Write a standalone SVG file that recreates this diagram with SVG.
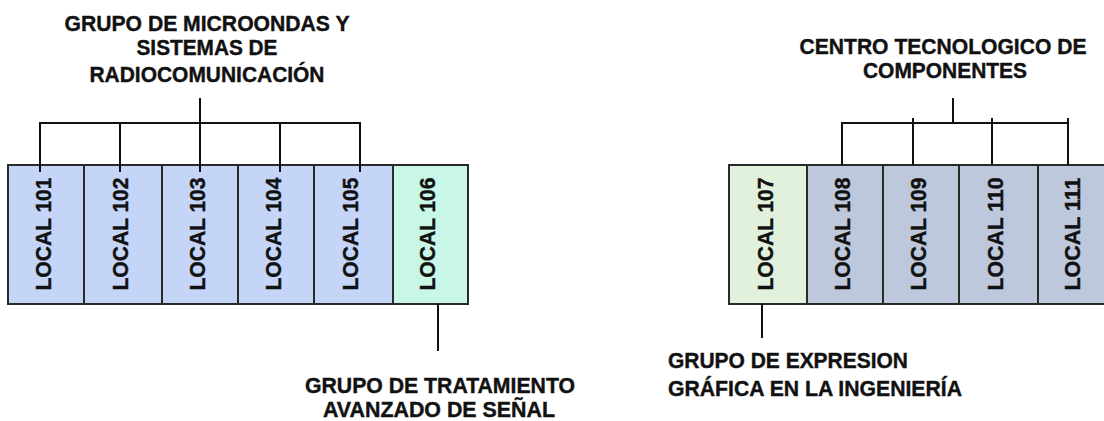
<svg xmlns="http://www.w3.org/2000/svg" width="1104" height="421" viewBox="0 0 1104 421">
<style>
.t{font-family:"Liberation Sans",Arial,sans-serif;font-weight:bold;font-size:22px;fill:#111;stroke:#111;stroke-width:0.4;}
.lbl{font-family:"Liberation Sans",Arial,sans-serif;font-weight:bold;font-size:22px;fill:#111;stroke:#111;stroke-width:0.4;text-anchor:middle;}
.box{stroke:#2a2a2a;stroke-width:2;}
.a{fill:#c5d5f7;}
.b{fill:#c9f7e7;}
.c{fill:#e2f1dc;}
.d{fill:#bdc8dc;}
.ln{stroke:#111;stroke-width:2;fill:none;}
</style>
<rect width="1104" height="421" fill="#ffffff"/>
<g id="title-microondas">
<text class="t" text-anchor="middle" x="207" y="31" textLength="285" lengthAdjust="spacingAndGlyphs">GRUPO DE MICROONDAS Y</text>
<text class="t" text-anchor="middle" x="207" y="55" textLength="141" lengthAdjust="spacingAndGlyphs">SISTEMAS DE</text>
<text class="t" text-anchor="middle" x="207" y="82" textLength="235" lengthAdjust="spacingAndGlyphs">RADIOCOMUNICACIÓN</text>
</g>
<g id="title-centro">
<text class="t" text-anchor="middle" x="943" y="54" textLength="287" lengthAdjust="spacingAndGlyphs">CENTRO TECNOLOGICO DE</text>
<text class="t" text-anchor="middle" x="945" y="78" textLength="164" lengthAdjust="spacingAndGlyphs">COMPONENTES</text>
</g>
<g id="title-tratamiento">
<text class="t" text-anchor="middle" x="440" y="393" textLength="270" lengthAdjust="spacingAndGlyphs">GRUPO DE TRATAMIENTO</text>
<text class="t" text-anchor="middle" x="439" y="417" textLength="232" lengthAdjust="spacingAndGlyphs">AVANZADO DE SEÑAL</text>
</g>
<g id="title-expresion">
<text class="t" x="668" y="368" textLength="240" lengthAdjust="spacingAndGlyphs">GRUPO DE EXPRESION</text>
<text class="t" x="668" y="396" textLength="294" lengthAdjust="spacingAndGlyphs">GRÁFICA EN LA INGENIERÍA</text>
</g>
<g id="local-101"><rect class="box a" x="8" y="165" width="76" height="139"/><text class="lbl" transform="translate(51,234) rotate(-90)" textLength="113" lengthAdjust="spacingAndGlyphs">LOCAL 101</text></g>
<g id="local-102"><rect class="box a" x="84" y="165" width="78" height="139"/><text class="lbl" transform="translate(128,234) rotate(-90)" textLength="113" lengthAdjust="spacingAndGlyphs">LOCAL 102</text></g>
<g id="local-103"><rect class="box a" x="162" y="165" width="76" height="139"/><text class="lbl" transform="translate(205,234) rotate(-90)" textLength="113" lengthAdjust="spacingAndGlyphs">LOCAL 103</text></g>
<g id="local-104"><rect class="box a" x="238" y="165" width="76" height="139"/><text class="lbl" transform="translate(281,234) rotate(-90)" textLength="113" lengthAdjust="spacingAndGlyphs">LOCAL 104</text></g>
<g id="local-105"><rect class="box a" x="314" y="165" width="79" height="139"/><text class="lbl" transform="translate(358,234) rotate(-90)" textLength="113" lengthAdjust="spacingAndGlyphs">LOCAL 105</text></g>
<g id="local-106"><rect class="box b" x="393" y="165" width="75" height="139"/><text class="lbl" transform="translate(435,234) rotate(-90)" textLength="113" lengthAdjust="spacingAndGlyphs">LOCAL 106</text></g>
<g id="local-107"><rect class="box c" x="729" y="165" width="78" height="139"/><text class="lbl" transform="translate(773,234) rotate(-90)" textLength="113" lengthAdjust="spacingAndGlyphs">LOCAL 107</text></g>
<g id="local-108"><rect class="box d" x="807" y="165" width="76" height="139"/><text class="lbl" transform="translate(850,234) rotate(-90)" textLength="113" lengthAdjust="spacingAndGlyphs">LOCAL 108</text></g>
<g id="local-109"><rect class="box d" x="883" y="165" width="76" height="139"/><text class="lbl" transform="translate(926,234) rotate(-90)" textLength="113" lengthAdjust="spacingAndGlyphs">LOCAL 109</text></g>
<g id="local-110"><rect class="box d" x="959" y="165" width="79" height="139"/><text class="lbl" transform="translate(1003,234) rotate(-90)" textLength="113" lengthAdjust="spacingAndGlyphs">LOCAL 110</text></g>
<g id="local-111"><rect class="box d" x="1038" y="165" width="77" height="139"/><text class="lbl" transform="translate(1080,234) rotate(-90)" textLength="113" lengthAdjust="spacingAndGlyphs">LOCAL 111</text></g>
<g id="connectors">
<path class="ln" d="M200 98V123M40 172V123H360V172M120 123V172M200 123V172M280 123V172"/>
<path class="ln" d="M438 304V351"/>
<path class="ln" d="M953 98V123M842 165V123H1068M913 118V165M992 118V165M1068 118V165"/>
<path class="ln" d="M762 304V338"/>
</g>
</svg>
